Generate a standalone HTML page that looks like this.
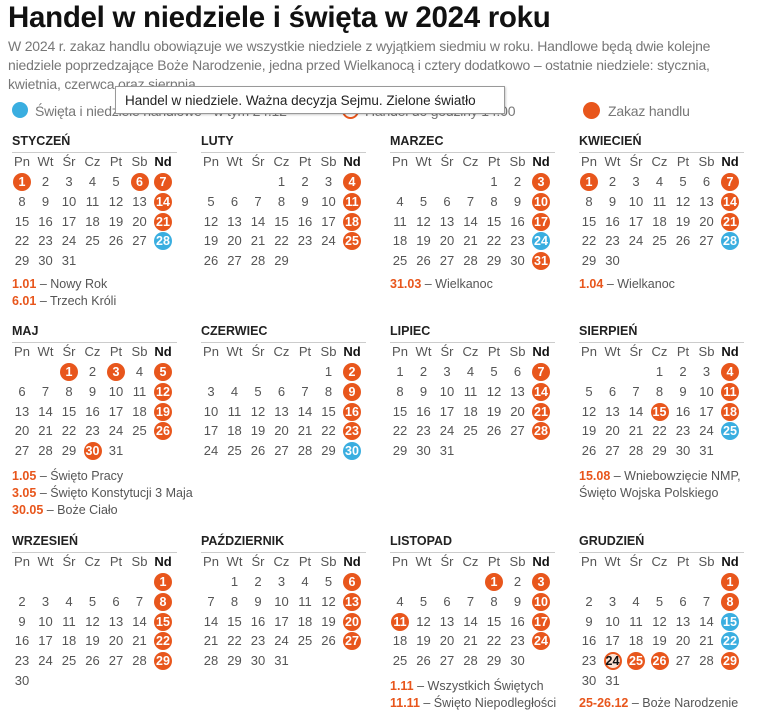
<!DOCTYPE html><html><head><meta charset="utf-8"><style>
body{margin:0;width:768px;height:714px;background:#fff;font-family:"Liberation Sans",sans-serif;position:relative;overflow:hidden}
.a{position:absolute;white-space:nowrap}
.t{font-size:29.5px;font-weight:bold;color:#111;left:8px;top:1px;letter-spacing:-0.3px}
.s{font-size:14px;color:#777;left:8px;letter-spacing:-0.2px}
.mt{font-size:12.5px;font-weight:bold;color:#222}
.ln{height:1px;background:#ccc;width:165px}
.d{width:24px;text-align:center;font-size:13px;color:#555;transform:translate(-12px,-8px);line-height:16px}
.c{width:18px;height:18px;border-radius:50%;transform:translate(-9px,-9px)}
.cd{font-size:12.5px;font-weight:bold;color:#fff;text-align:center;width:24px;transform:translate(-12px,-8px);line-height:16px}
.n{font-size:12.5px;color:#555}
.n b{color:#e8561c}
</style></head><body>
<div class="a t">Handel w niedziele i święta w 2024 roku</div>
<div class="a s" style="top:38px">W 2024 r. zakaz handlu obowiązuje we wszystkie niedziele z wyjątkiem siedmiu w roku. Handlowe będą dwie kolejne</div>
<div class="a s" style="top:57px">niedziele poprzedzające Boże Narodzenie, jedna przed Wielkanocą i cztery dodatkowo – ostatnie niedziele: stycznia,</div>
<div class="a s" style="top:76px">kwietnia, czerwca oraz sierpnia</div>
<div class="a" style="left:12px;top:102px;width:16px;height:16px;border-radius:50%;background:#3aaee0"></div>
<div class="a s" style="left:35px;top:103px;font-size:14px">Święta i niedziele handlowe - w tym 24.12</div>
<div class="a" style="left:342px;top:102px;width:13px;height:13px;border-radius:50%;border:2px solid #e8561c"></div>
<div class="a s" style="left:365px;top:103px;font-size:14px">Handel do godziny 14:00</div>
<div class="a" style="left:583px;top:102px;width:17px;height:17px;border-radius:50%;background:#e8561c"></div>
<div class="a s" style="left:608px;top:103px;font-size:14px">Zakaz handlu</div>
<div class="a" style="left:115px;top:86px;width:390px;height:28px;border:1px solid #999;background:#fff;box-shadow:1px 1px 2px rgba(0,0,0,.2);font-size:13.5px;color:#222;line-height:28px;padding-left:9px;box-sizing:border-box">Handel w niedziele. Ważna decyzja Sejmu. Zielone światło</div>
<div id="cal"></div>
<script>
var M=[["STYCZEŃ",0,31,{1:"o",6:"o",7:"o",14:"o",21:"o",28:"b"},[["1.01","Nowy Rok"],["6.01","Trzech Króli"]]],
["LUTY",3,29,{4:"o",11:"o",18:"o",25:"o"},[]],
["MARZEC",4,31,{3:"o",10:"o",17:"o",31:"o",24:"b"},[["31.03","Wielkanoc"]]],
["KWIECIEŃ",0,30,{1:"o",7:"o",14:"o",21:"o",28:"b"},[["1.04","Wielkanoc"]]],
["MAJ",2,31,{1:"o",3:"o",5:"o",12:"o",19:"o",26:"o",30:"o"},[["1.05","Święto Pracy"],["3.05","Święto Konstytucji 3 Maja"],["30.05","Boże Ciało"]]],
["CZERWIEC",5,30,{2:"o",9:"o",16:"o",23:"o",30:"b"},[]],
["LIPIEC",0,31,{7:"o",14:"o",21:"o",28:"o"},[]],
["SIERPIEŃ",3,31,{4:"o",11:"o",15:"o",18:"o",25:"b"},[["15.08","Wniebowzięcie NMP,"],["","Święto Wojska Polskiego"]]],
["WRZESIEŃ",6,30,{1:"o",8:"o",15:"o",22:"o",29:"o"},[]],
["PAŹDZIERNIK",1,31,{6:"o",13:"o",20:"o",27:"o"},[]],
["LISTOPAD",4,30,{1:"o",3:"o",10:"o",11:"o",17:"o",24:"o"},[["1.11","Wszystkich Świętych"],["11.11","Święto Niepodległości"]]],
["GRUDZIEŃ",6,31,{1:"o",8:"o",25:"o",26:"o",29:"o",15:"b",22:"b",24:"h"},[["25-26.12","Boże Narodzenie"]]]];
var H=["Pn","Wt","Śr","Cz","Pt","Sb","Nd"],T=[141,331,541],h="";
M.forEach(function(m,i){var col=i%4,row=Math.floor(i/4),x0=12+189*col,t=T[row];
h+='<div class="a mt" style="left:'+x0+'px;top:'+(t-7)+'px">'+m[0]+'</div>';
h+='<div class="a ln" style="left:'+x0+'px;top:'+(t+11)+'px"></div>';
function X(k){return x0+10+k*23.5}
H.forEach(function(w,k){h+='<div class="a d" style="left:'+X(k)+'px;top:'+(t+21)+'px;'+(k==6?'font-weight:bold;color:#111':'')+'">'+w+'</div>'});
for(var d=1;d<=m[2];d++){var p=m[1]+d-1,k=p%7,r=Math.floor(p/7),x=X(k),y=t+41+r*19.8;var s=m[3][d];
if(s=="o"||s=="b"){h+='<div class="a c" style="left:'+x+'px;top:'+y+'px;background:'+(s=="o"?"#e8561c":"#3aaee0")+'"></div><div class="a cd" style="left:'+x+'px;top:'+y+'px">'+d+'</div>';}
else if(s=="h"){h+='<div class="a c" style="left:'+x+'px;top:'+y+'px;background:#fbe3d4;box-sizing:border-box;border:2px solid #e8561c"></div><div class="a cd" style="left:'+x+'px;top:'+y+'px;color:#111">'+d+'</div>';}
else h+='<div class="a d" style="left:'+x+'px;top:'+y+'px">'+d+'</div>';}
var ny=t+144;if(i>=4)ny=t+146;if(i==11)ny+=17;
m[4].forEach(function(n,j){h+='<div class="a n" style="left:'+x0+'px;top:'+(ny+j*17-8)+'px">'+(n[0]?'<b>'+n[0]+'</b> – ':'')+n[1]+'</div>'});
});
document.getElementById("cal").innerHTML=h;
</script>
</body></html>
